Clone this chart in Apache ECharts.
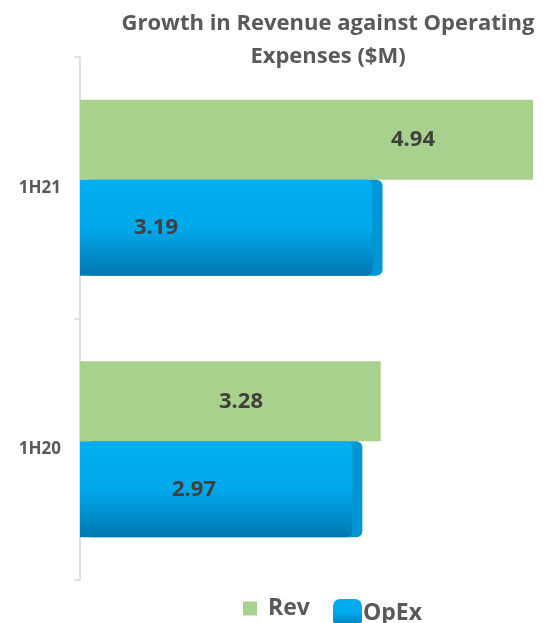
<!DOCTYPE html>
<html>
<head>
<meta charset="utf-8">
<script src="https://cdn.jsdelivr.net/npm/echarts@6/dist/echarts.min.js"></script>
<style>
html,body{margin:0;padding:0;background:#fff;}
#c{width:548px;height:623px;}
</style>
</head>
<body>
<div id="c"></div>
<script>
const categories = ['1H20', '1H21'];
const revValues = [3.28, 4.94];
const opexValues = [2.97, 3.19];
const seriesNames = ['Rev', 'OpEx'];
const titleText = 'Growth in Revenue against Operating\nExpenses ($M)';

// label centre positions (px from bar start), layout only
const revLabelX = [161, 333];
const opexLabelX = [114, 76];

const FONT = '"Open Sans", "Noto Sans", sans-serif';
const opexGradient = new echarts.graphic.LinearGradient(0, 0, 0, 1, [
  {offset: 0, color: '#00aeef'},
  {offset: 0.5, color: '#00a9ea'},
  {offset: 1, color: '#0078b4'}
]);

function labelItems(values, xs) {
  return values.map((v, i) => ({
    value: v,
    label: {position: [xs[i], '50%']}
  }));
}

const chart = echarts.init(document.getElementById('c'), null, {renderer: 'canvas'});
chart.setOption({
  animation: false,
  title: {
    text: titleText,
    left: 328,
    top: 7,
    padding: 0,
    textAlign: 'center',
    textStyle: {fontFamily: FONT, fontSize: 22, fontWeight: 'bold', color: '#595959', lineHeight: 33}
  },
  grid: {left: 80, top: 57, bottom: 43, width: 458.5},
  xAxis: {
    type: 'value', min: 0, max: 5, show: false
  },
  yAxis: {
    type: 'category',
    data: categories,
    axisLine: {show: true, lineStyle: {color: '#d9d9d9', width: 1.5}},
    axisTick: {show: true, length: 6, lineStyle: {color: '#d9d9d9', width: 1.5}},
    axisLabel: {fontFamily: FONT, fontSize: 17, fontWeight: 'bold', color: '#595959', margin: 19},
    splitLine: {show: false}
  },
  legend: [
    {
      data: [seriesNames[0]], left: 238, top: 592, selectedMode: false,
      itemWidth: 14, itemHeight: 14, icon: 'rect',
      textStyle: {fontFamily: FONT, fontSize: 23, fontWeight: 'bold', color: '#595959', padding: [0, 0, 0, 6]}
    },
    {
      data: [seriesNames[1]], left: 328, top: 594, selectedMode: false,
      itemWidth: 29, itemHeight: 28, icon: 'roundRect',
      textStyle: {fontFamily: FONT, fontSize: 23, fontWeight: 'bold', color: '#595959', padding: [0, 0, 4, -4]}
    }
  ],
  series: [
    {
      name: seriesNames[0], type: 'bar', barWidth: 80, barGap: '0%',
      data: labelItems(revValues, revLabelX),
      itemStyle: {color: '#a9d18e'},
      label: {show: true, align: 'center', verticalAlign: 'middle',
        fontFamily: FONT, fontSize: 22, fontWeight: 'bold', color: '#404040',
        formatter: p => p.value.toFixed(2)}
    },
    {
      name: seriesNames[1], type: 'bar', barWidth: 96,
      data: labelItems(opexValues, opexLabelX),
      itemStyle: {color: opexGradient, borderRadius: [0, 6, 6, 0],
        shadowColor: '#0096d4', shadowOffsetX: 10, shadowBlur: 0},
      label: {show: true, align: 'center', verticalAlign: 'middle',
        fontFamily: FONT, fontSize: 22, fontWeight: 'bold', color: '#404040',
        formatter: p => p.value.toFixed(2)}
    }
  ]
});
</script>
</body>
</html>
